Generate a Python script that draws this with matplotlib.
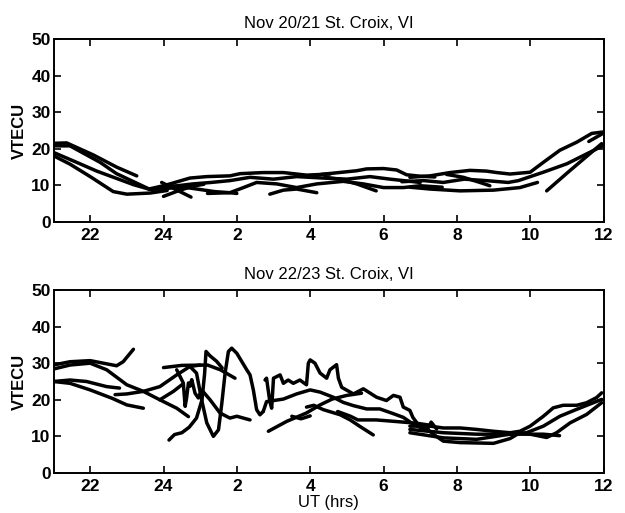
import numpy as np
import matplotlib.pyplot as plt

plt.rcParams['font.family'] = ['Liberation Sans', 'DejaVu Sans']

hour_ticks = [22, 24, 26, 28, 30, 32, 34, 36]
hour_labels = ['22', '24', '2', '4', '6', '8', '10', '12']
tec_ticks = [0, 10, 20, 30, 40, 50]
titles = ['Nov 20/21 St. Croix, VI', 'Nov 22/23 St. Croix, VI']

# satellite passes, (UT hours past midnight of first day, VTEC units)
nov20_passes = [
    ([21.0, 21.36, 22.09, 22.72, 23.27], [21.5, 21.6, 18.3, 15.0, 12.6]),
    ([21.0, 21.45, 22.27, 22.72, 23.63, 24.2], [20.8, 20.8, 16.3, 13.2, 8.9, 9.4]),
    ([21.0, 21.63, 22.18, 23.18, 23.63, 24.5], [19.0, 16.3, 13.9, 10.2, 8.9, 9.5]),
    ([21.0, 21.45, 22.0, 22.63, 23.0, 23.63, 24.1], [18.1, 15.8, 12.4, 8.3, 7.6, 7.9, 8.6]),
    ([23.6, 24.04, 24.72, 25.18, 25.81, 26.09, 26.72, 27.27, 27.9, 28.54],
     [9.0, 10.0, 12.0, 12.4, 12.6, 13.2, 13.5, 13.5, 12.8, 13.1]),
    ([28.3, 29.27, 29.54, 30.0, 30.36, 30.63, 31.0, 31.4],
     [13.0, 14.0, 14.5, 14.6, 14.2, 12.9, 12.5, 12.3]),
    ([24.1, 24.5, 24.84, 25.39, 25.81, 26.0], [10.0, 9.6, 9.1, 8.3, 8.0, 7.8]),
    ([23.95, 24.35, 24.75], [10.8, 8.8, 6.8]),
    ([24.0, 24.4, 24.8, 25.1], [7.0, 8.5, 9.8, 10.3]),
    ([24.3, 24.8, 25.3, 25.81, 26.36, 27.0, 27.63, 28.36, 29.0, 29.63, 30.18, 31.0],
     [9.8, 10.4, 10.8, 11.3, 12.2, 11.7, 12.4, 12.0, 11.7, 12.4, 11.7, 10.8]),
    ([25.2, 25.81, 26.18, 26.54, 27.09, 27.63, 28.18, 28.9, 29.45, 30.0, 30.54, 31.0, 31.6],
     [7.8, 8.0, 9.4, 10.8, 10.4, 9.4, 10.4, 11.1, 10.4, 9.4, 9.4, 9.9, 9.5]),
    ([26.9, 27.27, 27.63, 28.18], [7.6, 8.7, 9.0, 8.0]),
    ([28.4, 28.8, 29.27, 29.8], [12.2, 11.7, 10.4, 8.5]),
    ([30.72, 31.27, 31.81, 32.36, 32.81, 33.09, 33.45, 34.0, 34.36, 34.81, 35.27, 35.68, 36.0],
     [12.2, 12.6, 13.5, 14.1, 13.9, 13.5, 13.1, 13.6, 16.3, 19.6, 21.8, 24.2, 24.6]),
    ([30.5, 31.1, 31.63, 32.2, 32.8, 33.4, 33.68, 34.36, 35.0, 35.54, 36.0],
     [11.0, 11.3, 10.8, 11.7, 11.3, 10.8, 11.3, 13.6, 15.9, 18.6, 20.9]),
    ([30.72, 31.27, 32.09, 33.0, 33.72, 34.2], [9.5, 9.0, 8.5, 8.7, 9.4, 10.8]),
    ([31.72, 32.18, 32.63, 32.9], [13.0, 12.2, 10.8, 9.9]),
    ([34.45, 35.08, 35.95], [8.5, 14.0, 21.4]),
    ([35.6, 35.95], [22.0, 24.0]),
]

nov22_passes = [
    ([21.0, 21.45, 22.0, 22.36, 22.72, 22.9, 23.18], [29.5, 30.4, 30.7, 30.0, 29.3, 30.4, 33.8]),
    ([21.0, 21.45, 22.0, 22.45, 23.0, 23.45, 23.9, 24.36, 24.68],
     [28.4, 29.5, 30.0, 28.2, 24.1, 22.3, 20.0, 17.7, 15.4]),
    ([21.0, 21.45, 21.9, 22.45, 22.8], [25.0, 25.4, 25.0, 23.6, 23.2]),
    ([21.0, 21.45, 22.0, 22.6, 23.0, 23.45], [25.0, 24.5, 22.7, 20.4, 18.6, 17.7]),
    ([22.68, 23.0, 23.45, 23.9, 24.36, 24.72, 25.0], [21.4, 21.6, 22.3, 23.6, 26.8, 29.1, 29.5]),
    ([24.0, 24.5, 25.2, 25.55, 25.95], [28.8, 29.4, 29.5, 28.2, 25.9]),
    ([24.15, 24.3, 24.5, 24.7, 24.9, 25.05, 25.12, 25.16, 25.27, 25.45, 25.6],
     [9.0, 10.5, 11.0, 12.5, 15.0, 20.0, 27.0, 33.2, 32.0, 30.5, 28.7]),
    ([24.36, 24.54, 24.59, 24.63, 24.68, 24.72, 24.77, 24.86, 24.95, 25.04, 25.27, 25.54,
      25.81, 26.0, 26.18, 26.36],
     [28.2, 24.6, 18.2, 20.5, 24.6, 23.7, 25.5, 21.8, 20.5, 22.7, 20.0, 16.4,
      15.0, 15.5, 15.0, 14.5]),
    ([24.7, 24.9, 25.04, 25.18, 25.36, 25.5, 25.59, 25.68, 25.77, 25.86, 26.0, 26.27,
      26.36, 26.45, 26.54, 26.63, 26.72],
     [29.3, 27.3, 20.0, 13.7, 10.0, 11.8, 19.0, 27.3, 33.2, 34.1, 32.7, 28.2,
      26.8, 22.7, 17.3, 15.9, 16.8]),
    ([23.9, 24.27, 24.5], [20.0, 22.3, 24.1]),
    ([26.77, 26.81, 26.9, 26.95, 27.0, 27.18, 27.27, 27.4, 27.54, 27.72, 27.9, 27.95, 28.0,
      28.13, 28.27, 28.45, 28.54, 28.72, 28.77, 28.86, 29.18, 29.45, 29.81, 30.08, 30.27,
      30.45, 30.54, 30.72, 30.8, 31.0, 31.18, 31.3, 31.45],
     [25.4, 25.9, 19.5, 17.7, 25.9, 26.8, 24.5, 25.4, 24.5, 25.4, 24.1, 30.0, 30.9,
      30.0, 27.3, 25.9, 28.2, 29.6, 25.9, 23.4, 21.6, 23.0, 20.7, 19.8, 21.2,
      20.7, 18.0, 17.1, 15.2, 12.5, 11.6, 13.9, 12.0]),
    ([26.72, 26.81, 27.27, 27.63, 28.0, 28.27, 28.63, 28.9, 29.18, 29.54, 29.9, 30.27,
      30.54, 30.8, 31.1],
     [16.8, 19.5, 20.2, 21.6, 22.7, 22.1, 20.7, 19.3, 18.4, 17.5, 17.5, 16.2,
      15.2, 13.4, 12.0]),
    ([26.86, 27.36, 27.9, 28.27, 28.6, 29.0, 29.4], [11.4, 14.1, 16.4, 18.6, 20.2, 21.2, 21.8]),
    ([27.9, 28.1, 28.36, 28.82, 29.09, 29.36, 29.72], [18.0, 18.5, 17.3, 15.9, 14.5, 12.7, 10.4]),
    ([27.5, 27.75, 28.0], [15.5, 14.8, 15.6]),
    ([28.75, 29.1, 29.3, 29.8, 30.3, 30.9, 31.3], [16.8, 15.5, 14.5, 14.5, 14.1, 13.6, 13.0]),
    ([30.72, 31.27, 31.63, 32.09, 32.54, 33.0, 33.45, 33.72, 34.0, 34.36, 34.63, 34.9,
      35.27, 35.54, 35.81, 35.95],
     [12.8, 12.8, 12.3, 12.3, 11.9, 11.4, 11.0, 11.4, 12.8, 15.5, 17.8, 18.5,
      18.5, 19.2, 20.6, 21.9]),
    ([30.72, 31.63, 32.54, 33.45, 33.9, 34.36, 34.81, 35.27, 35.95],
     [11.9, 11.0, 10.6, 10.6, 11.0, 12.8, 15.5, 17.4, 20.1]),
    ([31.09, 31.36, 31.63, 32.09, 33.0, 33.45, 33.72, 34.0, 34.45, 34.72, 35.09, 35.54, 35.95],
     [12.8, 10.6, 8.7, 8.3, 8.1, 9.4, 11.0, 10.6, 9.7, 11.0, 13.7, 16.0, 19.2]),
    ([30.72, 31.63, 32.54, 33.45, 34.36, 34.8], [11.0, 9.6, 9.2, 10.6, 10.6, 10.2]),
]

fig = plt.figure(figsize=(6.25, 5.13), dpi=100)
ax1 = fig.add_axes([0.0856, 0.5673, 0.88, 0.3567])
ax2 = fig.add_axes([0.0856, 0.078, 0.88, 0.3567])

for ax, passes, title in zip([ax1, ax2], [nov20_passes, nov22_passes], titles):
    for ut, tec in passes:
        ax.plot(ut, tec, color='black', lw=2.5,
                solid_capstyle='round', solid_joinstyle='round')
    ax.set_xlim(21, 36)
    ax.set_ylim(0, 50)
    ax.set_xticks(hour_ticks)
    ax.set_xticklabels(hour_labels)
    ax.set_yticks(tec_ticks)
    ax.tick_params(direction='in', top=True, right=True, length=5, width=1.2,
                   labelsize=12.5, pad=4)
    ax.tick_params(axis='y', pad=2)
    for lab in ax.get_xticklabels() + ax.get_yticklabels():
        lab.set_fontweight('bold')
    for sp in ax.spines.values():
        sp.set_linewidth(1.4)
    ax.set_title(title, fontsize=12, pad=8)
    ax.set_ylabel('VTECU', fontsize=12, fontweight='bold', labelpad=3)

ax2.set_xlabel('UT (hrs)', fontsize=12, labelpad=1)

fig.savefig('out.png', dpi=100)
